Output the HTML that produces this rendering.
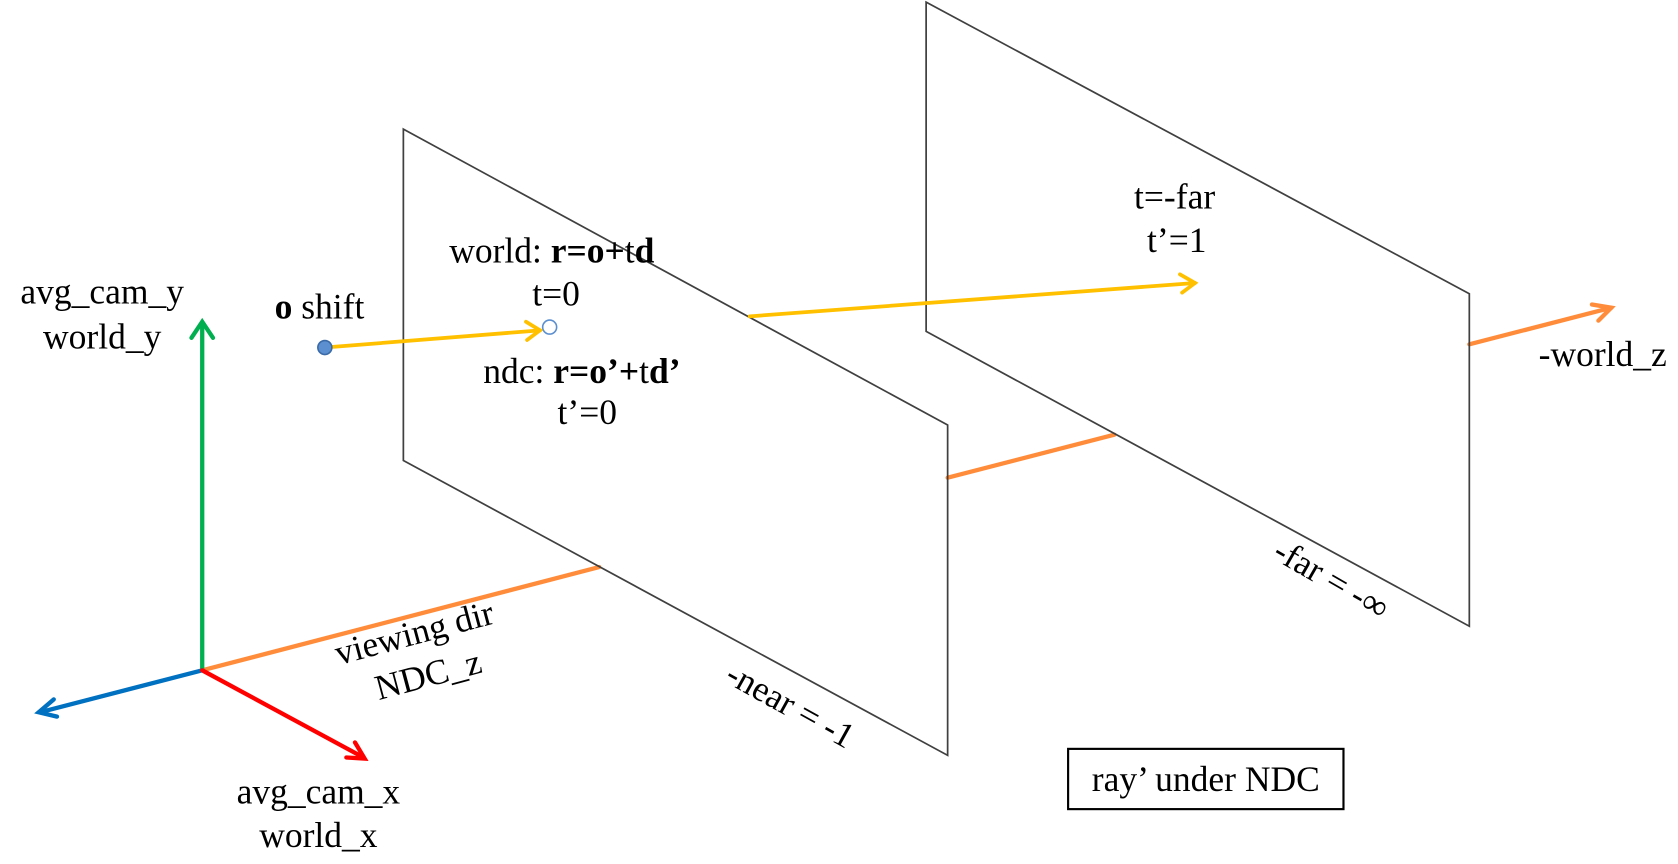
<!DOCTYPE html>
<html><head><meta charset="utf-8"><style>html,body{margin:0;padding:0;background:#fff}svg{display:block}</style></head>
<body>
<svg width="1678" height="864" viewBox="0 0 1560 803" preserveAspectRatio="none" xmlns="http://www.w3.org/2000/svg" font-family="Liberation Serif, serif" font-size="33" fill="#000">
<g stroke="#FF8C3A" stroke-width="4" fill="none" stroke-linecap="round">
<line x1="188" y1="623" x2="557" y2="527"/>
<line x1="881" y1="444" x2="1036" y2="404"/>
<line x1="1366" y1="320" x2="1498" y2="286"/>
<polyline points="1480,283 1498,286 1486,298"/>
</g>
<g stroke="#404040" stroke-width="1.6" fill="none">
<polygon points="375,120 881,395 881,702 375,428"/>
<polygon points="861,2 1366,273 1366,582 861,308"/>
</g>
<g stroke-width="4" fill="none" stroke-linecap="round">
<line x1="188" y1="623" x2="188" y2="300" stroke="#00B050"/>
<polyline points="178,314 188,299 198,314" stroke="#00B050"/>
<line x1="188" y1="623" x2="37" y2="662" stroke="#0070C0"/>
<polyline points="50,650 36,662 53,666" stroke="#0070C0"/>
<line x1="188" y1="623" x2="338" y2="704" stroke="#FF0000"/>
<polyline points="322,704 339,705 330,690" stroke="#FF0000"/>
</g>
<g stroke="#FFC000" stroke-width="3.5" fill="none" stroke-linecap="round">
<line x1="302" y1="323" x2="502" y2="307"/>
<polyline points="489,299 502,307 490,316"/>
<line x1="697" y1="294" x2="1111" y2="263"/>
<polyline points="1097,255 1111,263 1099,272"/>
</g>
<circle cx="302" cy="323" r="6.5" fill="#5B8FCF" stroke="#3A6BA8" stroke-width="1.5"/>
<circle cx="511" cy="304" r="6.5" fill="#fff" stroke="#5B8FCF" stroke-width="1.5"/>
<g text-anchor="middle">
<text x="95" y="282">avg_cam_y</text>
<text x="95" y="324">world_y</text>
<text x="297" y="296"><tspan font-weight="bold">o</tspan> shift</text>
<text x="513" y="244">world: <tspan font-weight="bold">r=o+</tspan>t<tspan font-weight="bold">d</tspan></text>
<text x="517" y="284">t=0</text>
<text x="541" y="356">ndc: <tspan font-weight="bold">r=o’+</tspan>t<tspan font-weight="bold">d’</tspan></text>
<text x="546" y="394">t’=0</text>
<text x="1092" y="194">t=-far</text>
<text x="1094" y="234">t’=1</text>
<text x="1490" y="340">-world_z</text>
<text x="296" y="747">avg_cam_x</text>
<text x="296" y="787">world_x</text>
<text x="1121" y="735">ray’ under NDC</text>
<text transform="translate(1238,538) rotate(30)" y="11">-far = -∞</text>
<text transform="translate(735,655) rotate(29)" y="11">-near = -1</text>
<text transform="translate(385,588) rotate(-15)" y="11">viewing dir</text>
<text transform="translate(398,627) rotate(-15)" y="11">NDC_z</text>
</g>
<rect x="993" y="696" width="256" height="56" fill="none" stroke="#000" stroke-width="2"/>
</svg>
</body></html>
